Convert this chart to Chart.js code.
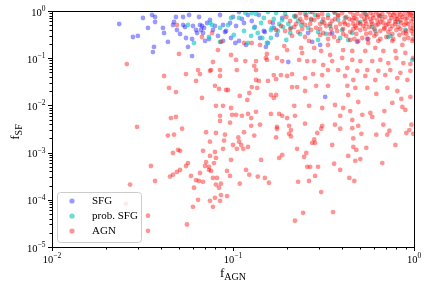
<!DOCTYPE html>
<html>
<head>
<meta charset="utf-8">
<script src="https://cdn.jsdelivr.net/npm/chart.js@4.4.1/dist/chart.umd.min.js"></script>
<style>
  html, body { margin: 0; padding: 0; background: #fff; }
</style>
</head>
<body>
<canvas id="fracChart" width="430" height="288"></canvas>
<script>
// decade ticks on both log axes
const xMajorTicks = [0.01, 0.1, 1];
const xTickExp = ['\u22122', '\u22121', '0'];
const yMajorTicks = [1e-5, 1e-4, 1e-3, 1e-2, 1e-1, 1];
const yTickExp = ['\u22125', '\u22124', '\u22123', '\u22122', '\u22121', '0'];
const minorSteps = [2, 3, 4, 5, 6, 7, 8, 9];

const seriesNames = ['SFG', 'prob. SFG', 'AGN'];
const seriesColors = ['rgba(0,0,255,0.4)', 'rgba(20,200,195,0.65)', 'rgba(255,0,0,0.42)'];

// [fAGN, fSF] pairs
const sfgPoints = [
  [0.0235,0.531],[0.0318,0.711],[0.0357,0.823],[0.0371,0.746],[0.0371,0.585],[0.0339,0.437],[0.028,0.281],
  [0.0298,0.296],[0.041,0.437],[0.0416,0.342],[0.0366,0.173],[0.0361,0.135],[0.0437,0.221],[0.0472,0.585],
  [0.0484,0.746],[0.053,0.746],[0.0572,0.823],[0.0649,0.746],[0.049,0.396],[0.051,0.326],[0.055,0.268],
  [0.0594,0.255],[0.0594,0.111],[0.0564,0.173],[0.0543,0.458],[0.0674,0.481],[0.0683,0.342],[0.0701,0.232],
  [0.0746,0.645],[0.0775,0.396],[0.0737,0.255],[0.0657,0.505],[0.0719,0.557],[0.0848,0.823],[0.0881,0.505],
  [0.0915,0.377],[0.0963,0.557],[0.0881,0.232],[0.0826,0.296],[0.0975,0.268],[0.053,0.505],[0.0466,0.505],
  [0.0625,0.396],[0.0795,0.481],[0.0601,0.481],[0.0633,0.342],[0.0692,0.437],[0.0666,0.396],
  [0.103,0.21],[0.121,0.823],[0.132,0.458],[0.15,0.359],[0.156,0.21],[0.202,0.083],[0.274,0.221],
  [0.303,0.191],[0.323,0.0151],[0.353,0.342],[0.486,0.221],[0.552,0.255],[0.166,0.557],[0.187,0.711],
  [0.26,0.342],[0.104,0.481],[0.108,0.232],[0.118,0.191],[0.152,0.173],[0.148,0.377],[0.168,0.437],
  [0.175,0.31],[0.139,0.823],[0.115,0.557],[0.108,0.952],[0.0903,0.359],[0.112,0.677],[0.127,0.614],
  [0.1,0.746],[0.141,0.268]
];

const probSfgPoints = [
  [0.0564,0.505],[0.0609,0.21],[0.0737,0.281],[0.0746,0.557],[0.0766,0.505],[0.0848,0.437],[0.0975,0.711],
  [0.0939,0.505],[0.0848,0.221],[0.121,0.21],[0.137,0.342],[0.164,0.437],[0.187,0.645],[0.22,0.746],
  [0.26,0.437],[0.295,0.359],[0.381,0.645],[0.456,0.342],[0.588,0.458],[0.721,0.281],[0.979,0.092],
  [0.131,0.437],[0.154,0.21],[0.162,0.396],[0.143,0.557],[0.18,0.531],[0.209,0.437],[0.238,0.505],
  [0.27,0.645],[0.162,0.268],[0.126,0.296],[0.108,0.711],[0.218,0.784],[0.401,0.396],[0.611,0.377],
  [0.74,0.296],[0.335,0.823],[0.366,0.907],[0.117,0.907],[0.134,0.864],[0.148,0.711],[0.173,0.907],
  [0.194,0.864],[0.202,0.531],[0.229,0.614],[0.25,0.864],[0.284,0.823],[0.311,0.585],[0.344,0.481],
  [0.416,0.711],[0.505,0.585],[0.538,0.864],[0.177,0.377],[0.145,0.268],[0.235,0.326],[0.197,0.243],
  [0.115,0.377],[0.101,0.31],[0.295,0.243],[0.433,0.243],[0.652,0.784],[0.82,0.585],[0.896,0.396],
  [0.168,0.677],[0.207,0.342],[0.127,0.907],[0.156,0.952],[0.189,0.458],[0.267,0.952],[0.327,0.326],
  [0.391,0.268]
];

const agnPoints = [
  // left and middle, upper half
  [0.049,0.505],[0.0674,0.281],[0.0766,0.342],[0.0259,0.075],[0.0503,0.123],[0.0775,0.083],[0.0416,0.042],
  [0.055,0.046],[0.0641,0.056],[0.0657,0.046],[0.0746,0.054],[0.0756,0.056],[0.0625,0.033],[0.0443,0.0234],
  [0.0484,0.0192],[0.0795,0.026],[0.0837,0.0223],[0.0915,0.0212],[0.0939,0.0212],[0.0674,0.0144],
  [0.0805,0.0098],[0.0881,0.0098],[0.0975,0.0088],[0.0295,0.0035],[0.0454,0.0054],[0.0484,0.0057],
  [0.0523,0.0032],[0.0437,0.0023],[0.0472,0.0024],[0.071,0.0027],[0.0805,0.0026],[0.0903,0.0024],
  [0.0892,0.0018],[0.0746,0.0017],[0.0848,0.006],[0.0848,0.0047],[0.0963,0.0043],[0.0858,0.221],
  [0.0826,0.149],[0.0975,0.117],[0.0848,0.056],[0.0848,0.042],[0.0988,0.0063],
  // lower half
  [0.027,0.00021],[0.0352,0.00052],[0.0371,0.00025],[0.0339,0.000046],[0.0339,0.000022],[0.0557,0.00003],
  [0.0256,0.000082],[0.0466,0.00098],[0.0497,0.00114],[0.051,0.00109],[0.0449,0.00031],[0.0466,0.00034],
  [0.049,0.00039],[0.051,0.00043],[0.055,0.00052],[0.0564,0.0006],[0.0586,0.00032],[0.0625,0.00026],
  [0.0649,0.00025],[0.0683,0.00024],[0.0657,0.00037],[0.0609,0.00018],[0.0601,0.000071],[0.0641,0.0001],
  [0.0683,0.00109],[0.0701,0.00052],[0.071,0.00063],[0.0737,0.0005],[0.0737,0.00043],[0.0756,0.00041],
  [0.0785,0.0006],[0.0805,0.00077],[0.0795,0.00103],[0.0746,0.00085],[0.0881,0.0012],[0.0775,0.00029],
  [0.0816,0.00029],[0.0805,0.00021],[0.0837,0.00018],[0.0858,0.00022],[0.0858,0.000126],[0.0927,0.00012],
  [0.0848,0.000095],[0.0795,0.00011],[0.0746,0.000095],[0.0775,0.000071],[0.0963,0.00032],[0.0975,0.0007],
  [0.1,0.00145],[0.105,0.0012],[0.114,0.0012],[0.121,0.00132],[0.0927,0.00041],[0.109,0.00022],
  [0.118,0.00043],[0.123,0.00034],[0.143,0.0007],[0.137,0.00031],[0.15,0.00029],[0.158,0.00023],
  [0.18,0.00077],[0.187,0.00089],[0.226,0.0012],[0.247,0.00081],[0.254,0.00098],[0.257,0.0005],
  [0.267,0.0005],[0.295,0.0005],[0.284,0.00032],[0.263,0.00025],[0.229,0.00024],[0.307,0.000146],
  [0.244,0.000053],[0.22,0.000036],[0.357,0.000055],[0.362,0.00058],[0.391,0.00043],[0.433,0.00085],
  [0.462,0.00132],[0.48,0.00114],[0.474,0.00067],[0.505,0.00073],[0.545,0.00126],[0.439,0.00029],
  [0.468,0.00025],[0.668,0.0006],[0.789,0.00145],[0.353,0.00145],[0.274,0.0016],[0.284,0.0016],
  [0.115,0.0027],[0.131,0.0023],[0.107,0.0021],[0.108,0.0017],[0.111,0.00145],[0.175,0.0032],
  [0.204,0.0025],[0.209,0.003],[0.209,0.0022],[0.173,0.0021],[0.292,0.0026],[0.307,0.0032],[0.281,0.0019],
  [0.391,0.0032],[0.456,0.0033],[0.512,0.0025],[0.619,0.0024],[0.712,0.0024],[0.731,0.0029],[0.907,0.0026],
  [0.943,0.003],[0.99,0.0025],[0.462,0.002],
  // fAGN 0.1 - 0.33, fSF 0.004 - 0.2
  [0.104,0.092],[0.117,0.087],[0.134,0.087],[0.105,0.056],[0.131,0.0685],[0.134,0.056],[0.154,0.092],
  [0.175,0.101],[0.187,0.087],[0.232,0.092],[0.257,0.087],[0.281,0.087],[0.315,0.072],[0.168,0.044],
  [0.184,0.044],[0.199,0.042],[0.212,0.046],[0.25,0.038],[0.277,0.046],[0.311,0.044],[0.134,0.0345],
  [0.139,0.033],[0.156,0.033],[0.173,0.036],[0.127,0.0245],[0.136,0.0234],[0.226,0.0245],[0.212,0.0245],
  [0.25,0.0202],[0.288,0.026],[0.109,0.0159],[0.123,0.0183],[0.12,0.013],[0.162,0.0166],[0.168,0.0144],
  [0.173,0.0166],[0.218,0.0098],[0.263,0.0098],[0.311,0.0088],[0.104,0.0063],[0.112,0.006],[0.126,0.0054],
  [0.121,0.0066],[0.134,0.0073],[0.162,0.0066],[0.18,0.0066],[0.187,0.006],[0.199,0.0054],[0.22,0.006],
  [0.25,0.0041],[0.126,0.0037],[0.141,0.0039],[0.175,0.0035],[0.204,0.0037],[0.311,0.0037],
  [0.115,0.21],[0.127,0.21],[0.141,0.191],[0.154,0.123],[0.152,0.101],[0.192,0.181],[0.199,0.149],
  [0.238,0.165],[0.241,0.129],[0.281,0.165],[0.307,0.142],[0.263,0.232],
  // fAGN 0.33 - 1, fSF 0.004 - 0.25
  [0.335,0.191],[0.381,0.232],[0.444,0.243],[0.492,0.232],[0.559,0.21],[0.635,0.232],[0.759,0.232],
  [0.862,0.191],[0.979,0.232],[0.344,0.117],[0.406,0.149],[0.456,0.142],[0.538,0.142],[0.611,0.165],
  [0.677,0.142],[0.789,0.142],[0.896,0.129],[0.99,0.101],[0.353,0.087],[0.401,0.101],[0.456,0.092],
  [0.505,0.087],[0.588,0.087],[0.652,0.092],[0.721,0.079],[0.799,0.101],[0.873,0.079],[0.955,0.075],
  [0.335,0.056],[0.381,0.056],[0.428,0.062],[0.486,0.054],[0.552,0.056],[0.635,0.054],[0.74,0.056],
  [0.841,0.049],[0.955,0.054],[0.416,0.042],[0.462,0.0345],[0.538,0.042],[0.611,0.0345],[0.694,0.044],
  [0.809,0.038],[0.919,0.0345],[0.335,0.026],[0.428,0.026],[0.474,0.0234],[0.552,0.0234],[0.712,0.0234],
  [0.809,0.0202],[0.433,0.0166],[0.492,0.0118],[0.619,0.0175],[0.759,0.0113],[0.851,0.0137],[0.955,0.0151],
  [0.366,0.0102],[0.406,0.0088],[0.574,0.0069],[0.686,0.0076],[0.896,0.008],[0.391,0.006],[0.456,0.0049],
  [0.518,0.0063],[0.588,0.0057],[0.366,0.0039],[0.492,0.0037],[0.677,0.0039],[0.967,0.0039],
  [0.862,0.0093],[0.444,0.0076],
  // dense band near fSF = 1
  [0.235,0.907],[0.274,0.952],[0.311,0.864],[0.362,0.952],[0.401,0.907],[0.444,0.952],[0.486,0.864],
  [0.525,0.952],[0.574,0.907],[0.619,0.952],[0.668,0.864],[0.721,0.952],[0.779,0.907],[0.83,0.952],
  [0.885,0.864],[0.943,0.952],[0.99,0.907],
  [0.197,0.746],[0.223,0.784],[0.254,0.711],[0.295,0.746],[0.335,0.711],[0.381,0.784],[0.422,0.746],
  [0.468,0.711],[0.512,0.784],[0.552,0.746],[0.596,0.711],[0.643,0.784],[0.694,0.746],[0.75,0.711],
  [0.809,0.784],[0.862,0.746],[0.919,0.711],[0.979,0.784],
  [0.207,0.614],[0.241,0.585],[0.281,0.645],[0.319,0.557],[0.353,0.614],[0.411,0.585],[0.456,0.645],
  [0.492,0.557],[0.538,0.614],[0.581,0.585],[0.627,0.645],[0.677,0.557],[0.731,0.614],[0.789,0.585],
  [0.841,0.645],[0.907,0.557],[0.967,0.614],
  [0.184,0.481],[0.218,0.458],[0.25,0.505],[0.288,0.437],[0.327,0.481],[0.371,0.458],[0.433,0.505],
  [0.48,0.437],[0.525,0.481],[0.566,0.458],[0.619,0.505],[0.686,0.437],[0.759,0.481],[0.82,0.458],
  [0.885,0.505],[0.955,0.437],
  [0.194,0.377],[0.229,0.359],[0.27,0.396],[0.315,0.342],[0.376,0.377],[0.444,0.359],[0.505,0.396],
  [0.574,0.342],[0.652,0.377],[0.721,0.359],[0.799,0.396],[0.873,0.342],[0.967,0.377],
  [0.212,0.296],[0.25,0.281],[0.303,0.31],[0.362,0.281],[0.422,0.296],[0.518,0.268],[0.604,0.296],
  [0.703,0.281],[0.83,0.31],[0.931,0.268],
  [0.596,0.823],[0.652,0.585],[0.703,0.505],[0.769,0.823],[0.851,0.557],[0.931,0.864],[0.99,0.677],
  [0.99,0.505],[0.809,0.677],[0.74,0.416],[0.545,0.531],[0.907,0.377],[0.474,0.481],[0.391,0.531],
  [0.173,0.396],[0.16,0.585],
  [0.254,0.823],[0.295,0.823],[0.381,0.823],[0.462,0.823],[0.545,0.823],[0.635,0.823],[0.74,0.823],
  [0.841,0.823],[0.955,0.823],
  [0.235,0.677],[0.27,0.677],[0.315,0.677],[0.366,0.677],[0.439,0.677],[0.48,0.677],[0.531,0.677],
  [0.574,0.677],[0.668,0.677],[0.789,0.677],[0.896,0.677],
  [0.223,0.531],[0.267,0.531],[0.303,0.531],[0.344,0.531],[0.416,0.531],[0.462,0.531],[0.505,0.531],
  [0.588,0.531],[0.635,0.531],[0.721,0.531],[0.789,0.531],[0.931,0.531],
  [0.207,0.416],[0.241,0.416],[0.303,0.416],[0.348,0.416],[0.406,0.416],[0.462,0.416],[0.538,0.416],
  [0.604,0.416],[0.686,0.416],[0.841,0.416],[0.99,0.416],
  [0.344,0.326],[0.406,0.326],[0.48,0.326],[0.545,0.326],[0.619,0.326],[0.759,0.326],[0.907,0.326],
  [0.99,0.326],
  [0.335,0.255],[0.468,0.255],[0.559,0.255],[0.652,0.255],[0.769,0.255],[0.885,0.255],[0.99,0.255]
];

const toXY = pts => pts.map(p => ({ x: p[0], y: p[1] }));

const serif = '"Liberation Serif", "DejaVu Serif", serif';

// 10^n label with a raised exponent
function drawPower(ctx, exp, px, baseline, align) {
  ctx.font = '10.5px ' + serif;
  const wBase = ctx.measureText('10').width;
  ctx.font = '7.5px ' + serif;
  const wExp = ctx.measureText(exp).width;
  const left = align === 'center' ? px - (wBase + wExp) / 2 : px - wBase - wExp;
  ctx.font = '10.5px ' + serif;
  ctx.fillText('10', left, baseline);
  ctx.font = '7.5px ' + serif;
  ctx.fillText(exp, left + wBase, baseline - 4.5);
}

// frame, ticks, tick labels, axis titles and legend, drawn over the points
const axesDecor = {
  id: 'axesDecor',
  afterDraw(chart) {
    const { ctx, chartArea: a, scales: { x, y } } = chart;
    ctx.save();
    ctx.strokeStyle = '#000';
    ctx.fillStyle = '#000';
    ctx.lineWidth = 1;
    ctx.strokeRect(a.left + 0.5, a.top + 0.5, a.right - a.left, a.bottom - a.top);

    ctx.beginPath();
    xMajorTicks.forEach((v, i) => {
      const px = Math.round(x.getPixelForValue(v)) + 0.5;
      ctx.moveTo(px, a.bottom); ctx.lineTo(px, a.bottom + 4);
      if (i < xMajorTicks.length - 1) {
        minorSteps.forEach(m => {
          const mx = Math.round(x.getPixelForValue(v * m)) + 0.5;
          ctx.moveTo(mx, a.bottom); ctx.lineTo(mx, a.bottom + 2.5);
        });
      }
    });
    yMajorTicks.forEach((v, i) => {
      const py = Math.round(y.getPixelForValue(v)) + 0.5;
      ctx.moveTo(a.left, py); ctx.lineTo(a.left - 4, py);
      if (i < yMajorTicks.length - 1) {
        minorSteps.forEach(m => {
          const my = Math.round(y.getPixelForValue(v * m)) + 0.5;
          ctx.moveTo(a.left, my); ctx.lineTo(a.left - 2.5, my);
        });
      }
    });
    ctx.stroke();

    ctx.textBaseline = 'alphabetic';
    ctx.textAlign = 'left';
    xMajorTicks.forEach((v, i) => drawPower(ctx, xTickExp[i], x.getPixelForValue(v), a.bottom + 15.5, 'center'));
    yMajorTicks.forEach((v, i) => drawPower(ctx, yTickExp[i], a.left - 6.5, y.getPixelForValue(v) + 4.5, 'right'));

    // x title: f_AGN
    ctx.font = '13px ' + serif;
    const wf = ctx.measureText('f').width;
    ctx.font = '10px ' + serif;
    const wAgn = ctx.measureText('AGN').width;
    const cx = (a.left + a.right) / 2;
    const lx = cx - (wf + wAgn) / 2;
    ctx.font = '13px ' + serif;
    ctx.fillText('f', lx, 277);
    ctx.font = '10px ' + serif;
    ctx.fillText('AGN', lx + wf, 280);

    // y title: f_SF, rotated
    ctx.save();
    ctx.translate(19, 132);
    ctx.rotate(-Math.PI / 2);
    ctx.font = '10px ' + serif;
    const wSf = ctx.measureText('SF').width;
    const ly = -(wf + wSf) / 2;
    ctx.font = '13px ' + serif;
    ctx.fillText('f', ly, 0);
    ctx.font = '10px ' + serif;
    ctx.fillText('SF', ly + wf, 3);
    ctx.restore();

    // legend box, lower left inside the axes
    const bx = a.left + 5.5, by = 192.5, bw = 84, bh = 50, r = 3;
    ctx.beginPath();
    ctx.roundRect(bx, by, bw, bh, r);
    ctx.fillStyle = 'rgba(255,255,255,0.8)';
    ctx.fill();
    ctx.strokeStyle = '#cccccc';
    ctx.stroke();
    ctx.font = '11px ' + serif;
    ctx.textBaseline = 'middle';
    seriesNames.forEach((name, i) => {
      const ey = 201 + i * 15;
      ctx.beginPath();
      ctx.arc(72, ey, 2.6, 0, Math.PI * 2);
      ctx.fillStyle = seriesColors[i];
      ctx.fill();
      ctx.fillStyle = '#000';
      ctx.fillText(name, 92, ey + 0.5);
    });
    ctx.restore();
  }
};

const ctx = document.getElementById('fracChart').getContext('2d');
new Chart(ctx, {
  type: 'scatter',
  data: {
    datasets: [
      { label: seriesNames[0], data: toXY(sfgPoints), backgroundColor: seriesColors[0], order: 3 },
      { label: seriesNames[1], data: toXY(probSfgPoints), backgroundColor: seriesColors[1], order: 2 },
      { label: seriesNames[2], data: toXY(agnPoints), backgroundColor: seriesColors[2], order: 1 }
    ]
  },
  options: {
    responsive: false,
    animation: false,
    devicePixelRatio: 1,
    layout: { padding: { top: 11, right: 16, left: 0, bottom: 0 } },
    elements: { point: { radius: 2.4, borderWidth: 0, hoverRadius: 2.4 } },
    datasets: { scatter: { clip: 0 } },
    scales: {
      x: {
        type: 'logarithmic', min: 0.01, max: 1,
        grid: { display: false }, border: { display: false }, ticks: { display: false },
        afterFit(s) { s.height = 41; }
      },
      y: {
        type: 'logarithmic', min: 1e-5, max: 1,
        grid: { display: false }, border: { display: false }, ticks: { display: false },
        afterFit(s) { s.width = 52; }
      }
    },
    plugins: {
      legend: { display: false },
      tooltip: { enabled: false }
    }
  },
  plugins: [axesDecor]
});
</script>
</body>
</html>
